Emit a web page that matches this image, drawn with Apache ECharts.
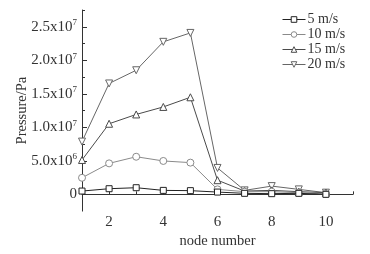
<!DOCTYPE html>
<html><head><meta charset="utf-8">
<script src="https://cdn.jsdelivr.net/npm/echarts@6/dist/echarts.min.js"></script>
<style>html,body{margin:0;padding:0;background:#fff}#c{width:370px;height:254px}</style>
</head><body><div id="c"></div>
<script>
var nodes = [1,2,3,4,5,6,7,8,9,10];
var seriesNames = ['5 m/s','10 m/s','15 m/s','20 m/s'];
var v5  = [0.49e6, 0.84e6, 0.99e6, 0.59e6, 0.55e6, 0.34e6, 0.15e6, 0.10e6, 0.15e6, 0.0];
var v10 = [2.47e6, 4.62e6, 5.61e6, 4.98e6, 4.73e6, 0.74e6, 0.40e6, 0.40e6, 0.25e6, 0.04e6];
var v15 = [5.13e6, 10.53e6, 11.92e6, 13.04e6, 14.48e6, 2.11e6, 0.49e6, 0.59e6, 0.40e6, 0.25e6];
var v20 = [7.87e6, 16.54e6, 18.51e6, 22.75e6, 24.08e6, 3.94e6, 0.59e6, 1.23e6, 0.74e6, 0.25e6];
var xMajorTicks = [2,4,6,8,10];
var xMinorTicks = [1,3,5,7,9,11];
var yMajorTicks = [0,5e6,10e6,15e6,20e6,25e6];
var yMinorTicks = [2.5e6,7.5e6,12.5e6,17.5e6,22.5e6,27.5e6];
var yLabels = {0:'0', 5e6:'{b|5.0x10}{s|6}', 10e6:'{b|1.0x10}{s|7}', 15e6:'{b|1.5x10}{s|7}', 20e6:'{b|2.0x10}{s|7}', 25e6:'{b|2.5x10}{s|7}'};

var FONT = 'Liberation Serif';
var colors = ['#222','#8a8a8a','#4a4a4a','#666'];
var symbols = ['rect','circle','triangle','triangle'];
var rotates = [0,0,0,180];
var data = [v5,v10,v15,v20];

function mk(i){
  return {
    name: seriesNames[i], type:'line',
    data: nodes.map(function(n,k){return [n, data[i][k]];}),
    symbol: symbols[i], symbolSize: i===0?6:7, symbolRotate: rotates[i],
    showSymbol:true,
    lineStyle:{color:colors[i], width:1},
    itemStyle:{color:'#fff', borderColor:colors[i], borderWidth:1},
    animation:false, z: 10-i
  };
}

var chart = echarts.init(document.getElementById('c'));
chart.setOption({
  animation:false,
  grid:{left:82, right:17, top:10, bottom:41, containLabel:false},
  legend:{
    orient:'vertical', left:277, top:7, itemGap:0, itemWidth:23, itemHeight:7,
    data: seriesNames.map(function(n,i){
      return {name:n, itemStyle:{color:'#fff', borderColor:colors[i], borderWidth:1}, lineStyle:{color:colors[i], width:1}};
    }),
    textStyle:{fontFamily:FONT, fontSize:14, color:'#333', lineHeight:15, padding:[0,0,0,-3]}
  },
  xAxis:[{
    type:'value', min:1, max:11, interval:1, position:'bottom',
    name:'node number', nameLocation:'middle', nameGap:21,
    nameTextStyle:{fontFamily:FONT, fontSize:14.5, color:'#333', verticalAlign:'top'},
    axisLine:{lineStyle:{color:'#333', width:1}},
    axisTick:{inside:true, length:5, lineStyle:{color:'#333'}, customValues:xMajorTicks},
    axisLabel:{fontFamily:FONT, fontSize:15, color:'#333', margin:3, customValues:xMajorTicks},
    splitLine:{show:false}
  },{
    type:'value', min:1, max:11, interval:1, position:'bottom',
    axisLine:{show:false},
    axisTick:{inside:true, length:3, lineStyle:{color:'#333'}, customValues:xMinorTicks},
    axisLabel:{show:false}, splitLine:{show:false}
  }],
  yAxis:[{
    type:'value', min:-2.5e6, max:2.75e7, interval:2.5e6, position:'left',
    name:'Pressure/Pa', nameLocation:'middle', nameGap:52, nameMoveOverlap:false,
    nameTextStyle:{fontFamily:FONT, fontSize:14.5, color:'#333'},
    axisLine:{show:true, lineStyle:{color:'#333', width:1}},
    axisTick:{show:true, inside:true, length:5, lineStyle:{color:'#333'}, customValues:yMajorTicks},
    axisLabel:{
      margin:5, customValues:yMajorTicks, color:'#333',
      formatter:function(v){ return yLabels[v] !== undefined ? yLabels[v] : ''; },
      fontFamily:FONT, fontSize:15,
      rich:{
        b:{fontFamily:FONT, fontSize:15, color:'#333'},
        s:{fontFamily:FONT, fontSize:9, color:'#333', padding:[0,0,8,0]}
      }
    },
    splitLine:{show:false}
  },{
    type:'value', min:-2.5e6, max:2.75e7, interval:2.5e6, position:'left',
    axisLine:{show:false},
    axisTick:{show:true, inside:true, length:3, lineStyle:{color:'#333'}, customValues:yMinorTicks},
    axisLabel:{show:false}, splitLine:{show:false}
  }],
  series:[mk(0),mk(1),mk(2),mk(3)]
});
</script></body></html>
